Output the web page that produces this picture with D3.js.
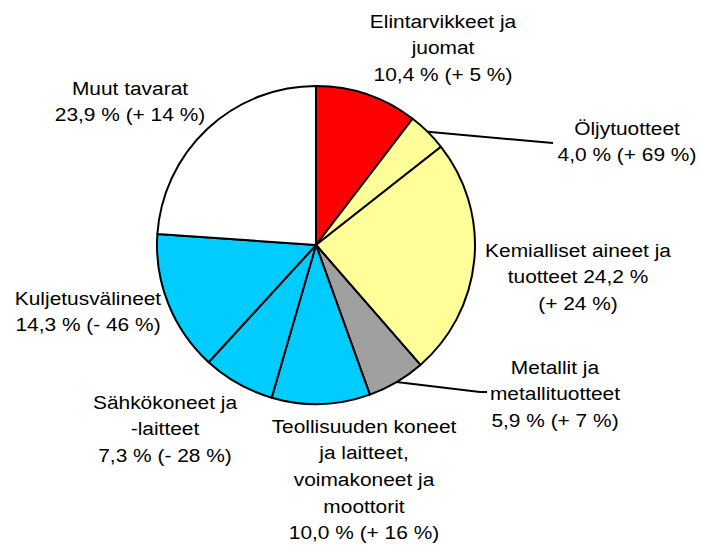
<!DOCTYPE html>
<html>
<head>
<meta charset="utf-8">
<script src="https://cdn.jsdelivr.net/npm/d3@7"></script>
<style>
  body { margin: 0; background: #fff; }
  text { font-family: "Liberation Sans", Arial, sans-serif; font-size: 19px; fill: #000; }
</style>
</head>
<body>
<svg id="chart" width="703" height="549"></svg>
<script>
// osuudet ja muutokset (%)
const categories = ["Elintarvikkeet ja juomat", "Öljytuotteet", "Kemialliset aineet ja tuotteet",
  "Metallit ja metallituotteet", "Teollisuuden koneet ja laitteet, voimakoneet ja moottorit",
  "Sähkökoneet ja -laitteet", "Kuljetusvälineet", "Muut tavarat"];
const shares = [10.4, 4.0, 24.2, 5.9, 10.0, 7.3, 14.3, 23.9];
const changes = [5, 69, 24, 7, 16, -28, -46, 14];
const colors = ["#ff0000", "#ffff99", "#ffff99", "#a0a0a0", "#00ccff", "#00ccff", "#00ccff", "#ffffff"];
// label rows, {p} = share, {c} = change
const labelLines = [
  ["Elintarvikkeet ja", "juomat", "{p} ({c})"],
  ["Öljytuotteet", "{p} ({c})"],
  ["Kemialliset aineet ja", "tuotteet {p}", "({c})"],
  ["Metallit ja", "metallituotteet", "{p} ({c})"],
  ["Teollisuuden koneet", "ja laitteet,", "voimakoneet ja", "moottorit", "{p} ({c})"],
  ["Sähkökoneet ja", "-laitteet", "{p} ({c})"],
  ["Kuljetusvälineet", "{p} ({c})"],
  ["Muut tavarat", "{p} ({c})"]
];
const labelPos = [[443, 21], [627, 128], [578, 250], [555, 367], [364, 426], [165, 402], [88, 298], [130, 88]];
const leaders = { 1: [[553, 143]], 3: [[480, 392], [487, 392]] };

const cx = 316, cy = 245, r = 159, lineH = 26.7;
const svg = d3.select("#chart");
const g = svg.append("g").attr("transform", "translate(" + cx + "," + cy + ")");

const pie = d3.pie().sort(null).value(d => d);
const arc = d3.arc().innerRadius(0).outerRadius(r);
const arcs = pie(shares);

g.selectAll("path")
  .data(arcs)
  .enter().append("path")
  .attr("d", arc)
  .attr("fill", (d, i) => colors[i])
  .attr("stroke", "#000")
  .attr("stroke-width", 2)
  .attr("stroke-linejoin", "round");

const fmtP = v => v.toFixed(1).replace(".", ",") + " %";
const fmtC = v => (v < 0 ? "- " : "+ ") + Math.abs(v) + " %";

// leader lines
Object.keys(leaders).forEach(k => {
  const a = arcs[k];
  const mid = (a.startAngle + a.endAngle) / 2;
  const start = [cx + r * Math.sin(mid), cy - r * Math.cos(mid)];
  svg.append("path")
    .attr("d", d3.line()([start].concat(leaders[k])))
    .attr("fill", "none")
    .attr("stroke", "#000")
    .attr("stroke-width", 2);
});

labelLines.forEach((lines, i) => {
  const t = svg.append("g")
    .attr("transform", "translate(" + labelPos[i][0] + "," + labelPos[i][1] + ") scale(1.1,1)");
  lines.forEach((ln, j) => {
    t.append("text")
      .attr("x", 0)
      .attr("y", j * lineH + 6.7)
      .attr("text-anchor", "middle")
      .text(ln.replace("{p}", fmtP(shares[i])).replace("{c}", fmtC(changes[i])));
  });
});
</script>
</body>
</html>
